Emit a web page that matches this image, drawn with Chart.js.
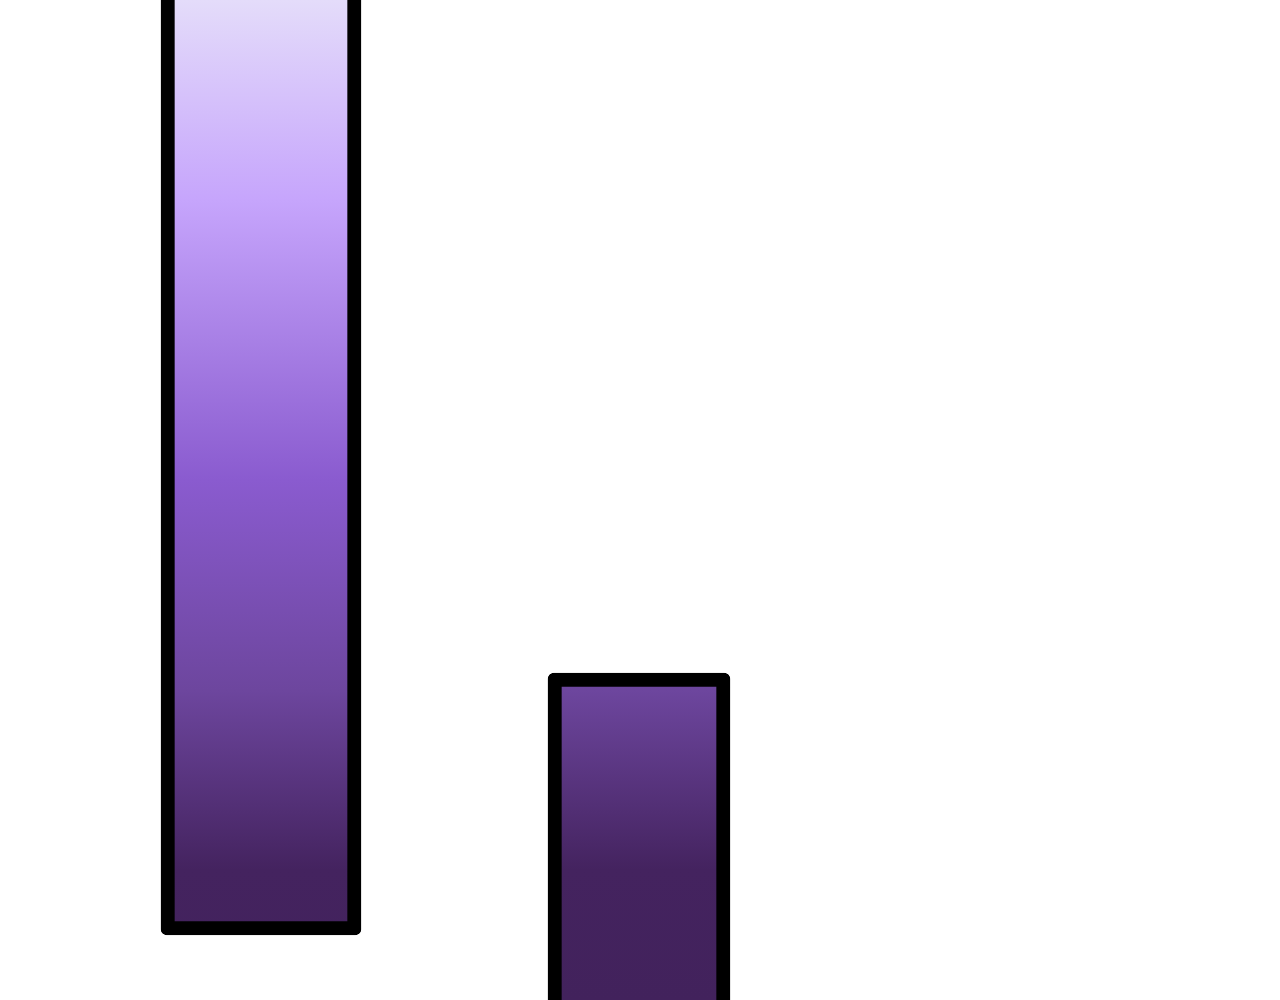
<!DOCTYPE html>
<html>
<head>
<meta charset="utf-8">
<script src="https://cdn.jsdelivr.net/npm/chart.js@4.4.1/dist/chart.umd.min.js"></script>
<style>
    html, body { margin: 0; padding: 0; background: #fff; }
    #wrap { width: 1280px; height: 1000px; position: relative; }
</style>
</head>
<body>
<div id="wrap"><canvas id="barChart"></canvas></div>
<script>
const categories = ['A', 'B', 'C'];
// floating bars [start, end]; both run past the visible range
const firstSeries = [[6.5, 115], null, null];
const secondSeries = [null, [-15, 32.7], null];

function purpleGradient(context) {
    const chart = context.chart;
    const area = chart.chartArea;
    if (!area) return '#8a5bcf';
    const g = chart.ctx.createLinearGradient(0, area.top, 0, area.bottom);
    g.addColorStop(0, '#e4dcfa');
    g.addColorStop(0.2, '#c6a5fc');
    g.addColorStop(0.48, '#8a5bcf');
    g.addColorStop(0.69, '#6d469e');
    g.addColorStop(0.87, '#44235f');
    g.addColorStop(1, '#42225c');
    return g;
}

const barStyle = {
    backgroundColor: purpleGradient,
    borderColor: '#000000',
    borderWidth: 14,
    borderRadius: 6,
    borderSkipped: false,
    grouped: false
};

new Chart(document.getElementById('barChart'), {
    type: 'bar',
    data: {
        labels: categories,
        datasets: [
            { ...barStyle, label: 'First', data: firstSeries, barThickness: 200 },
            { ...barStyle, label: 'Second', data: secondSeries, barThickness: 182 }
        ]
    },
    options: {
        responsive: true,
        maintainAspectRatio: false,
        animation: false,
        layout: { padding: { left: 72, right: 74, top: 0, bottom: 0 } },
        plugins: {
            legend: { display: false },
            tooltip: { enabled: false }
        },
        scales: {
            x: { display: false },
            y: { display: false, min: 0, max: 100 }
        }
    }
});
</script>
</body>
</html>
